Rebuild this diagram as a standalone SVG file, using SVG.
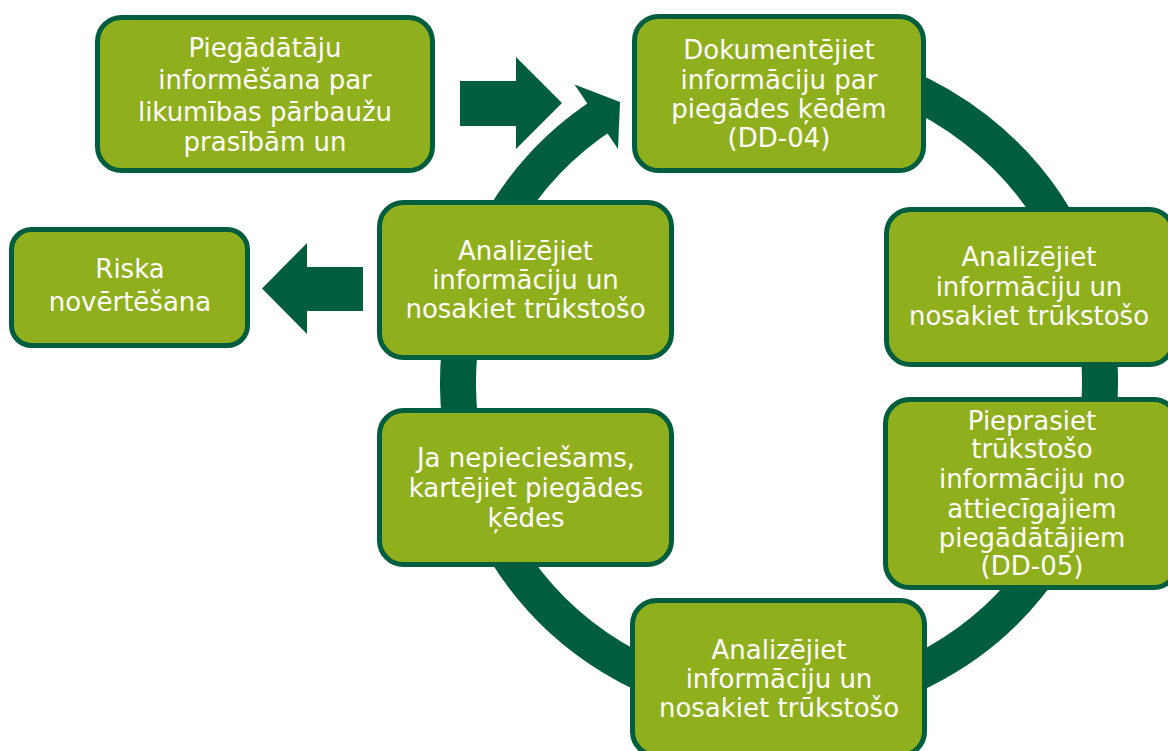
<svg xmlns="http://www.w3.org/2000/svg" width="1168" height="751" viewBox="0 0 1168 751">
<style>
.box{fill:#8FB01C;stroke:#005E3F;stroke-width:5}
.t{font-family:"DejaVu Sans","Liberation Sans",sans-serif;font-size:26px;fill:#ffffff;text-anchor:middle}
.dk{fill:#005E3F}
</style>
<rect width="1168" height="751" fill="#ffffff"/>
<g id="connectors">
<path d="M669.2,81.4 A321,321 0 1 1 604.2,113.8" fill="none" stroke="#005E3F" stroke-width="36"/>
<polygon class="dk" points="574.5,84.5 620,102 618,149"/>
<polygon class="dk" points="460,81 516,81 516,57 562,103 516,149 516,126 460,126"/>
<polygon class="dk" points="363,267 307,267 307,243 262,288.5 307,334 307,311 363,311"/>
</g>
<g id="n1"><rect class="box" x="97.5" y="17.5" width="335" height="153" rx="24"/>
<text class="t"><tspan x="265" y="57">Piegādātāju</tspan><tspan x="265" y="89">informēšana par</tspan><tspan x="265" y="121">likumības pārbaužu</tspan><tspan x="265" y="151">prasībām un</tspan></text></g>
<g id="n2"><rect class="box" x="634.5" y="16.5" width="289" height="154" rx="24"/>
<text class="t"><tspan x="779" y="59">Dokumentējiet</tspan><tspan x="779" y="89">informāciju par</tspan><tspan x="779" y="118">piegādes ķēdēm</tspan><tspan x="779" y="147">(DD-04)</tspan></text></g>
<g id="n3"><rect class="box" x="11.5" y="229.5" width="236" height="116" rx="20"/>
<text class="t"><tspan x="130" y="278">Riska</tspan><tspan x="130" y="311">novērtēšana</tspan></text></g>
<g id="n4"><rect class="box" x="379.5" y="202.5" width="292" height="155" rx="24"/>
<text class="t"><tspan x="525.5" y="260">Analizējiet</tspan><tspan x="525.5" y="289">informāciju un</tspan><tspan x="525.5" y="318">nosakiet trūkstošo</tspan></text></g>
<g id="n5"><rect class="box" x="886.5" y="209.5" width="287" height="155" rx="24"/>
<text class="t"><tspan x="1029" y="266">Analizējiet</tspan><tspan x="1029" y="296">informāciju un</tspan><tspan x="1029" y="325">nosakiet trūkstošo</tspan></text></g>
<g id="n6"><rect class="box" x="885.5" y="399.5" width="292" height="188" rx="24"/>
<text class="t"><tspan x="1032" y="430">Pieprasiet</tspan><tspan x="1032" y="458">trūkstošo</tspan><tspan x="1032" y="488">informāciju no</tspan><tspan x="1032" y="518">attiecīgajiem</tspan><tspan x="1032" y="547">piegādātājiem</tspan><tspan x="1032" y="575">(DD-05)</tspan></text></g>
<g id="n7"><rect class="box" x="379.5" y="410.5" width="292" height="154" rx="24"/>
<text class="t"><tspan x="526" y="467">Ja nepieciešams,</tspan><tspan x="526" y="497">kartējiet piegādes</tspan><tspan x="526" y="527">ķēdes</tspan></text></g>
<g id="n8"><rect class="box" x="632.5" y="600.5" width="292" height="155" rx="24"/>
<text class="t"><tspan x="779" y="659">Analizējiet</tspan><tspan x="779" y="688">informāciju un</tspan><tspan x="779" y="717">nosakiet trūkstošo</tspan></text></g>
</svg>
